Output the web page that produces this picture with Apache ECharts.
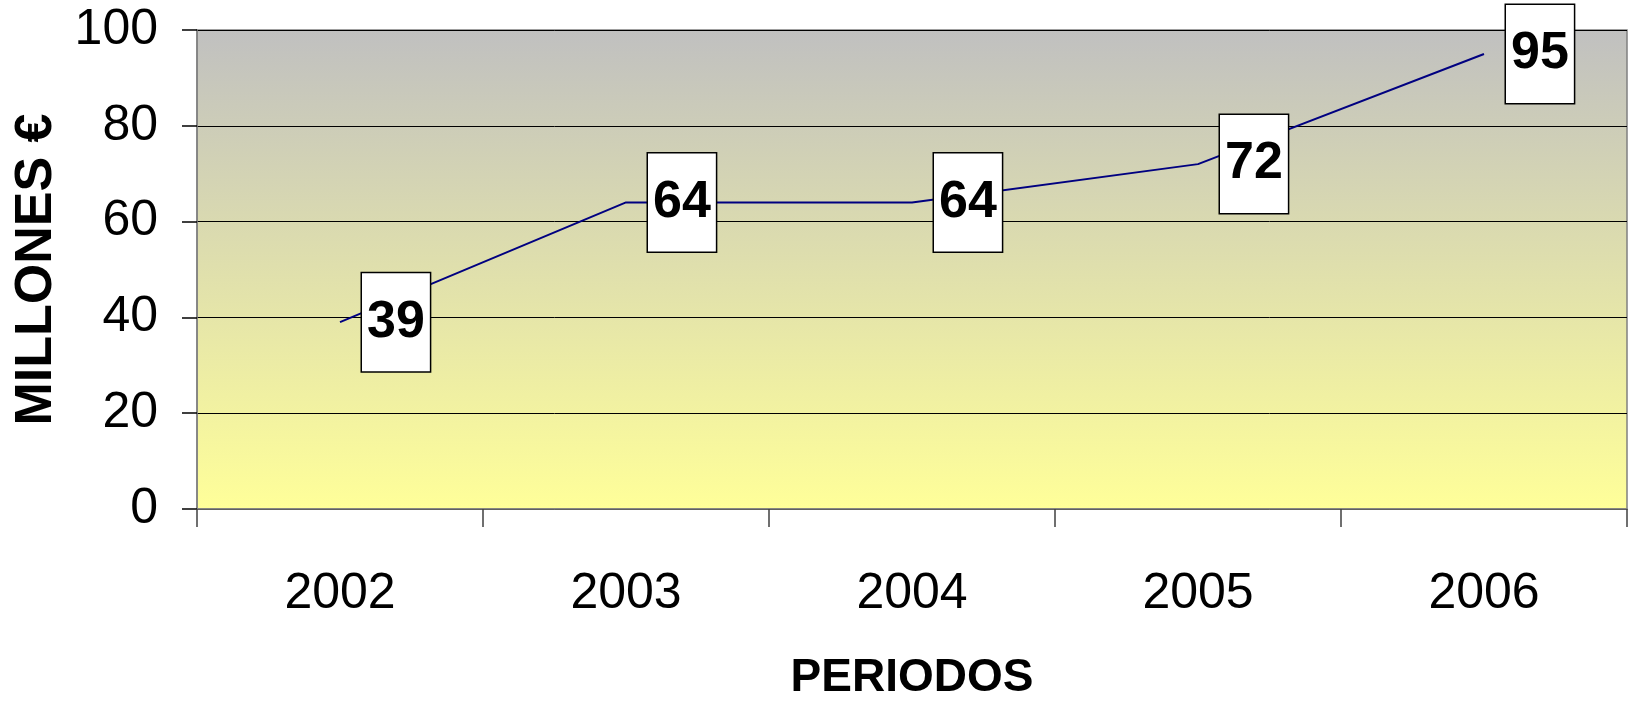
<!DOCTYPE html>
<html>
<head>
<meta charset="utf-8">
<script src="https://cdn.jsdelivr.net/npm/echarts@6/dist/echarts.min.js"></script>
<style>
html,body{margin:0;padding:0;background:#fff;}
#chart{width:1632px;height:707px;}
</style>
</head>
<body>
<div id="chart"></div>
<script>
const categories = ['2002', '2003', '2004', '2005', '2006'];
const values = [39, 64, 64, 72, 95];
const yTicks = { min: 0, max: 100, interval: 20 };
const xTitle = 'PERIODOS';
const yTitle = 'MILLONES €';

const chart = echarts.init(document.getElementById('chart'), null, { renderer: 'canvas' });
const FONT = '"Liberation Sans", Arial, sans-serif';
chart.setOption({
  animation: false,
  grid: {
    left: 197, right: 5, top: 30, bottom: 198,
    show: true,
    borderColor: '#808080',
    borderWidth: 1.5,
    backgroundColor: {
      type: 'linear', x: 0, y: 0, x2: 0, y2: 1,
      colorStops: [
        { offset: 0, color: '#c0c0c0' },
        { offset: 1, color: '#ffff99' }
      ]
    }
  },
  xAxis: {
    type: 'category',
    data: categories,
    boundaryGap: true,
    name: xTitle,
    nameLocation: 'middle',
    nameGap: 146,
    nameTextStyle: { fontFamily: FONT, fontWeight: 'bold', fontSize: 46, color: '#000' },
    axisLine: { show: true, lineStyle: { color: '#808080', width: 1.5 } },
    axisTick: { show: true, length: 18, lineStyle: { color: '#404040', width: 1.5 } },
    axisLabel: { fontFamily: FONT, fontSize: 50, color: '#000', margin: 60 },
    splitLine: { show: false }
  },
  yAxis: {
    type: 'value',
    min: yTicks.min, max: yTicks.max, interval: yTicks.interval,
    name: yTitle,
    nameLocation: 'middle',
    nameGap: 134,
    nameRotate: 90,
    nameTextStyle: { fontFamily: FONT, fontWeight: 'bold', fontSize: 52, color: '#000' },
    axisLine: { show: true, lineStyle: { color: '#808080', width: 1.5 } },
    axisTick: { show: true, length: 15, lineStyle: { color: '#000', width: 1.5 } },
    axisLabel: { fontFamily: FONT, fontSize: 50, color: '#000', margin: 39 },
    splitLine: { show: true, lineStyle: { color: '#000', width: 1 } }
  },
  series: [{
    type: 'line',
    data: values,
    symbol: 'circle',
    symbolSize: 0,
    showSymbol: true,
    lineStyle: { color: '#000080', width: 2 },
    itemStyle: { color: '#000080' },
    label: {
      show: true,
      position: 'right',
      distance: 22,
      fontFamily: FONT,
      fontWeight: 'bold',
      fontSize: 52,
      lineHeight: 56,
      color: '#000',
      backgroundColor: '#fff',
      borderColor: '#000',
      borderWidth: 1.5,
      padding: [21, 5, 21, 5]
    }
  }]
});
</script>
</body>
</html>
